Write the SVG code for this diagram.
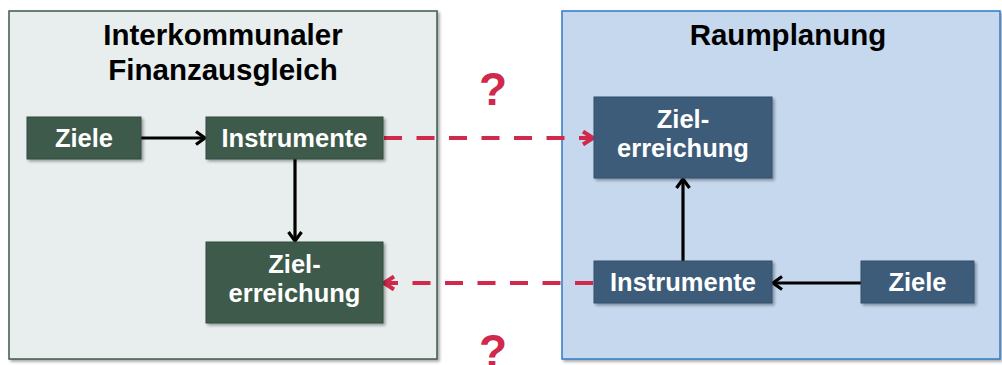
<svg xmlns="http://www.w3.org/2000/svg" width="1002" height="365" viewBox="0 0 1002 365">
<defs>
<filter id="sh" x="-10%" y="-10%" width="130%" height="130%">
<feGaussianBlur in="SourceAlpha" stdDeviation="1.5"/>
<feOffset dx="1.5" dy="2" result="b"/>
<feComponentTransfer><feFuncA type="linear" slope="0.35"/></feComponentTransfer>
<feMerge><feMergeNode/><feMergeNode in="SourceGraphic"/></feMerge>
</filter>
<marker id="ab" viewBox="0 0 16 16" refX="13" refY="8" markerWidth="16" markerHeight="16" markerUnits="userSpaceOnUse" orient="auto">
<path d="M4,1.5 L13,8 L4,14.5" fill="none" stroke="#000" stroke-width="3.2" stroke-linejoin="miter"/>
</marker>
<marker id="ar" viewBox="0 0 16 16" refX="13" refY="8" markerWidth="16" markerHeight="16" markerUnits="userSpaceOnUse" orient="auto">
<path d="M3,1.5 L13,8 L3,14.5" fill="none" stroke="#d0294b" stroke-width="4" stroke-linejoin="miter"/>
</marker>
</defs>
<style>
.pl{fill:#e8eeee;stroke:#3d5a4c;stroke-width:1.5}
.pr{fill:#c5d8ee;stroke:#2e7bc4;stroke-width:1.5}
.title{font-family:"Liberation Sans",Arial,sans-serif;font-weight:bold;font-size:29.5px;fill:#000;text-anchor:middle}
.ng{fill:#3e5a4c;stroke:#304a3e;stroke-width:1}
.nb{fill:#3d5c7a;stroke:#34506a;stroke-width:1}
.t{font-family:"Liberation Sans",Arial,sans-serif;font-weight:bold;font-size:25.5px;fill:#fff;text-anchor:middle}
.q{font-family:"Liberation Sans",Arial,sans-serif;font-weight:bold;font-size:46px;fill:#d0294b;text-anchor:middle}
.blk{stroke:#000;stroke-width:3.2;fill:none}
.red{stroke:#d0294b;stroke-width:4;fill:none;stroke-dasharray:18 14.5}
</style>
<g id="panel-left">
<rect class="pl" x="9" y="11" width="428" height="348" filter="url(#sh)"/>
<text class="title" x="223" y="45">Interkommunaler</text>
<text class="title" x="223" y="80">Finanzausgleich</text>
</g>
<g id="panel-right">
<rect class="pr" x="562" y="11" width="438" height="348" filter="url(#sh)"/>
<text class="title" x="788" y="45">Raumplanung</text>
</g>
<g id="connectors">
<line class="blk" x1="141" y1="138" x2="205" y2="138" marker-end="url(#ab)"/>
<line class="blk" x1="295" y1="159" x2="295" y2="241" marker-end="url(#ab)"/>
<line class="blk" x1="861" y1="283" x2="773" y2="283" marker-end="url(#ab)"/>
<line class="blk" x1="683" y1="261" x2="683" y2="179" marker-end="url(#ab)"/>
<line class="red" x1="384" y1="138" x2="593" y2="138" marker-end="url(#ar)"/>
<line class="red" x1="593" y1="283" x2="384" y2="283" marker-end="url(#ar)"/>
</g>
<g id="node-l-ziele">
<rect class="ng" x="27" y="117" width="114" height="42" filter="url(#sh)"/>
<text class="t" x="84" y="147">Ziele</text>
</g>
<g id="node-l-instrumente">
<rect class="ng" x="206" y="117" width="177" height="42" filter="url(#sh)"/>
<text class="t" x="294.5" y="147">Instrumente</text>
</g>
<g id="node-l-zielerreichung">
<rect class="ng" x="206" y="242" width="177" height="81" filter="url(#sh)"/>
<text class="t" x="294.5" y="273">Ziel-</text>
<text class="t" x="294.5" y="302">erreichung</text>
</g>
<g id="node-r-zielerreichung">
<rect class="nb" x="594" y="97" width="178" height="81" filter="url(#sh)"/>
<text class="t" x="683" y="128">Ziel-</text>
<text class="t" x="683" y="157">erreichung</text>
</g>
<g id="node-r-instrumente">
<rect class="nb" x="594" y="261" width="178" height="42" filter="url(#sh)"/>
<text class="t" x="683" y="291">Instrumente</text>
</g>
<g id="node-r-ziele">
<rect class="nb" x="861" y="261" width="113" height="42" filter="url(#sh)"/>
<text class="t" x="917.5" y="291">Ziele</text>
</g>
<g id="questions">
<text class="q" x="493" y="105">?</text>
<text class="q" x="493" y="367">?</text>
</g>
</svg>
